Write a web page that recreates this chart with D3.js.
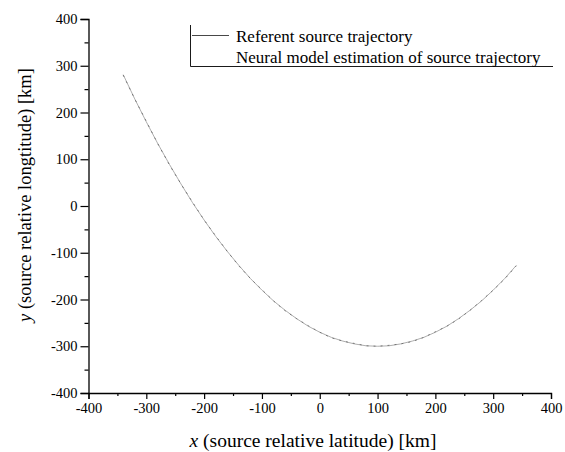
<!DOCTYPE html>
<html>
<head>
<meta charset="utf-8">
<script src="https://cdn.jsdelivr.net/npm/d3@7"></script>
<style>
  html, body { margin: 0; padding: 0; background: #fff; }
  svg { display: block; }
  text { font-family: "Liberation Serif", "Times New Roman", serif; fill: #000; }
</style>
</head>
<body>
<svg id="chart" width="565" height="452"></svg>
<script>
// ---- data ----
const xValues = [-340,-320,-300,-280,-260,-240,-220,-200,-180,-160,-140,-120,-100,-80,-60,-40,-20,0,20,40,60,80,100,120,140,160,180,200,220,240,260,280,300,320,340];
const referentY = [281,229,180,133,89,47,7,-30,-65,-97,-127,-155,-180,-203,-223,-241,-257,-270,-281,-289,-295,-299,-300,-299,-295,-289,-281,-270,-257,-241,-223,-203,-180,-155,-127];
const neuralY   = [280,229,181,133,88,47,8,-30,-64,-97,-128,-155,-179,-203,-224,-241,-256,-270,-282,-289,-294,-299,-300,-298,-295,-290,-281,-269,-257,-242,-223,-202,-180,-156,-128];
const xTicks = [-400,-300,-200,-100,0,100,200,300,400];
const yTicks = [-400,-300,-200,-100,0,100,200,300,400];
const xMinorTicks = [-350,-250,-150,-50,50,150,250,350];
const yMinorTicks = [-350,-250,-150,-50,50,150,250,350];
const seriesNames = ["Referent source trajectory", "Neural model estimation of source trajectory"];
const xTitle = "(source relative latitude) [km]";
const yTitle = "(source relative longtitude) [km]";

// ---- chart ----
const svg = d3.select("#chart");
const x = d3.scaleLinear().domain([-400, 400]).range([88.5, 551]);
const y = d3.scaleLinear().domain([-400, 400]).range([393, 19]);
const fmt = (d) => String(d);
const serif = '"Liberation Serif", "Times New Roman", serif';

// x axis
const gx = svg.append("g").attr("transform", `translate(0,${y(-400)})`);
gx.call(d3.axisBottom(x).tickValues(xTicks).tickSize(6).tickPadding(4).tickFormat(fmt));
gx.append("g").call(d3.axisBottom(x).tickValues(xMinorTicks).tickSize(3).tickFormat(""))
  .select(".domain").remove();

// y axis
const gy = svg.append("g").attr("transform", `translate(${x(-400)},0)`);
gy.call(d3.axisLeft(y).tickValues(yTicks).tickSize(8).tickPadding(3).tickFormat(fmt));
gy.append("g").call(d3.axisLeft(y).tickValues(yMinorTicks).tickSize(4).tickFormat(""))
  .select(".domain").remove();

[gx, gy].forEach((g) => g.attr("font-family", serif).attr("font-size", 14.5));
svg.selectAll(".domain").attr("stroke", "#000").attr("stroke-width", 1.3);
svg.selectAll(".tick line").attr("stroke", "#000").attr("stroke-width", 1.2);
svg.selectAll(".tick text").attr("fill", "#000")
  .style("font-family", serif).style("font-size", "14.5px");

// curves
const line = d3.line().x((d) => x(d[0])).y((d) => y(d[1]));
svg.append("path")
  .datum(xValues.map((v, i) => [v, referentY[i]]))
  .attr("d", line).attr("fill", "none")
  .attr("stroke", "#999").attr("stroke-width", 0.8);
svg.append("path")
  .datum(xValues.map((v, i) => [v, neuralY[i]]))
  .attr("d", line).attr("fill", "none")
  .attr("stroke", "#555").attr("stroke-width", 0.7)
  .attr("stroke-dasharray", "2,5");

// legend
const lg = svg.append("g");
lg.append("line").attr("x1", 190.5).attr("x2", 190.5).attr("y1", 25).attr("y2", 66.5)
  .attr("stroke", "#000").attr("stroke-width", 0.9);
lg.append("line").attr("x1", 190.5).attr("x2", 553).attr("y1", 66.5).attr("y2", 66.5)
  .attr("stroke", "#000").attr("stroke-width", 0.9);
lg.append("line").attr("x1", 192).attr("x2", 229).attr("y1", 35.5).attr("y2", 35.5)
  .attr("stroke", "#333").attr("stroke-width", 0.9);
lg.selectAll("text.leg").data(seriesNames).enter().append("text")
  .attr("class", "leg")
  .attr("x", 236).attr("y", (d, i) => 41.5 + i * 21)
  .style("font-family", serif)
  .style("font-size", "17px")
  .text((d) => d);

// axis titles
const xt = svg.append("text").attr("x", 313).attr("y", 447)
  .attr("text-anchor", "middle").style("font-family", serif).style("font-size", "19.5px");
xt.append("tspan").style("font-style", "italic").text("x");
xt.append("tspan").text(" " + xTitle);

const yt = svg.append("text")
  .attr("transform", "translate(31,195) rotate(-90)")
  .attr("text-anchor", "middle").style("font-family", serif).style("font-size", "18.5px");
yt.append("tspan").style("font-style", "italic").text("y");
yt.append("tspan").text(" " + yTitle);
</script>
</body>
</html>
